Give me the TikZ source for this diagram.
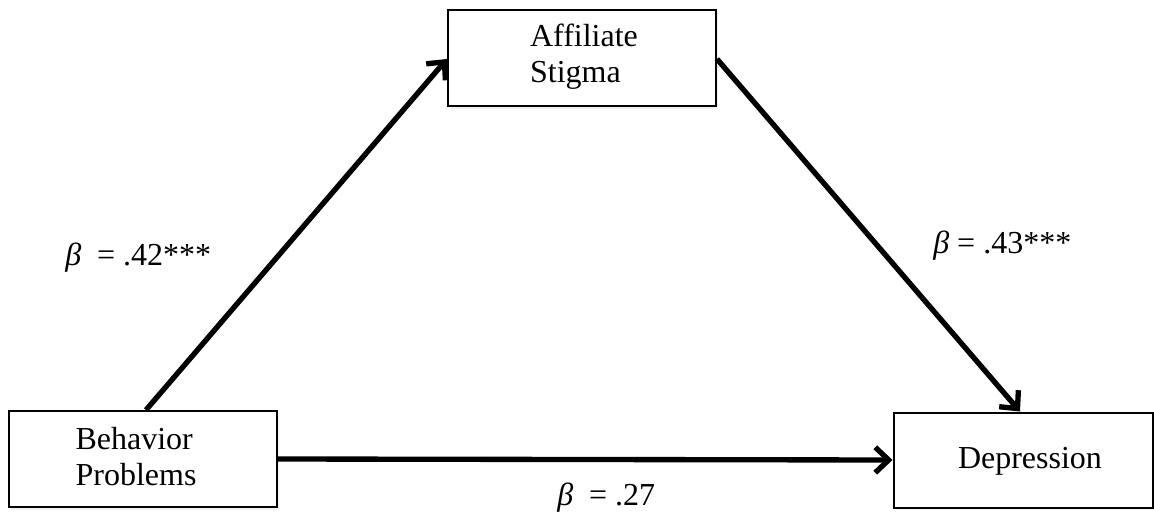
\documentclass[tikz,border=0pt]{standalone}
\usepackage{fontspec}
\setmainfont{Liberation Serif}
\usetikzlibrary{arrows.meta,shadows}
\begin{document}
\begin{tikzpicture}[x=0.75pt,y=-0.75pt,
  box/.style={draw=black,line width=1.5pt,fill=white,rectangle,inner sep=0pt,
    drop shadow={opacity=0.12,shadow xshift=1.5pt,shadow yshift=-2pt}},
  boxtext/.style={align=left,inner sep=0pt,font=\rmfamily\fontsize{24}{27}\selectfont},
  lbl/.style={anchor=base west,inner sep=0pt,font=\rmfamily\fontsize{24}{27}\selectfont},
  path/.style={line width=4pt,-{Straight Barb[length=10pt,width=19pt]}}]
\useasboundingbox (0,0) rectangle (1154,521);
% boxes
\node[box,minimum width=268*0.75pt,minimum height=96*0.75pt] (as) at (582,58) {};
\node[box,minimum width=268*0.75pt,minimum height=96*0.75pt] (bp) at (143,459) {};
\node[box,minimum width=259*0.75pt,minimum height=95*0.75pt] (dep) at (1023,460) {};
% texts
\node[boxtext] (ast) at (584,57) {Affiliate\\Stigma};
\node[boxtext] (bpt) at (136,457) {Behavior\\Problems};
\node[boxtext,anchor=base] (dept) at (1030,468) {Depression};
% connectors
\draw[path] ([xshift=3*0.75pt]bp.north) -- ([yshift=-1*0.75pt]as.west);
\draw[path] ([yshift=-1*0.75pt]as.east) -- ([xshift=-3*0.75pt]dep.north);
\draw[path] (bp.east) -- (dep.west);
% labels
\node[lbl] (l1) at (65,265) {\textit{β}\ \ =\ .42***};
\node[lbl] (l2) at (933,253) {\textit{β} = .43***};
\node[lbl] (l3) at (557,505) {\textit{β}\ \ = .27};
\end{tikzpicture}
\end{document}
